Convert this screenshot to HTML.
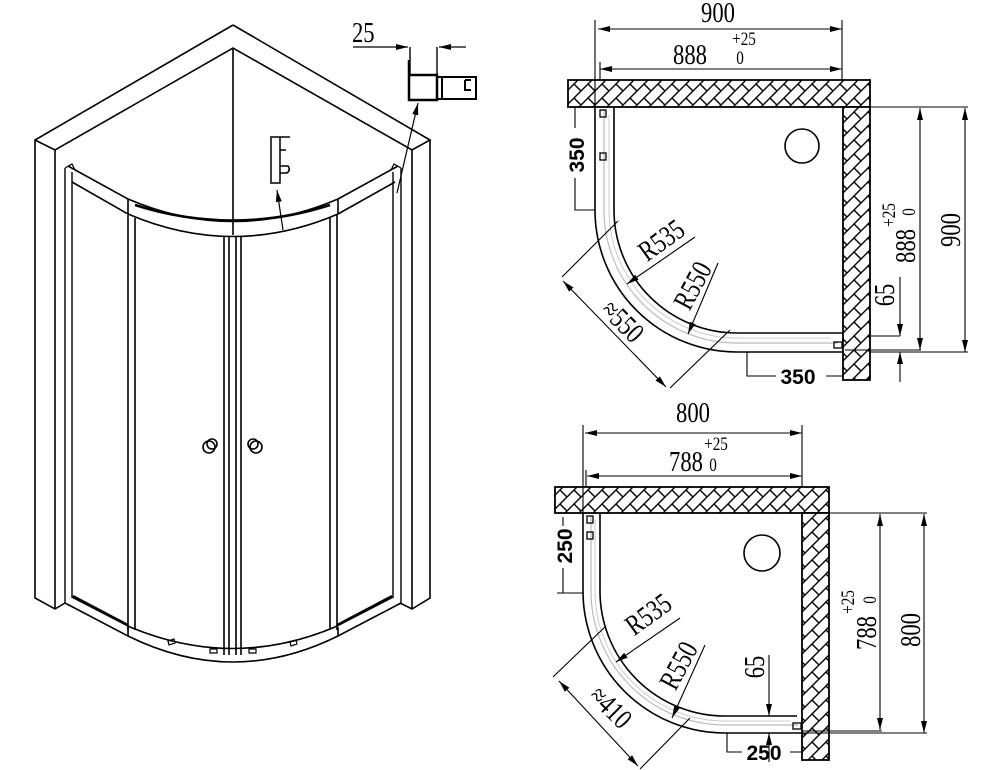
<!DOCTYPE html>
<html><head><meta charset="utf-8"><style>
html,body{margin:0;padding:0;background:#fff}
svg{display:block}
.t{font-family:"Liberation Serif",serif;font-size:29px;fill:#000}
.b{font-family:"Liberation Sans",sans-serif;font-weight:bold;font-size:21px;fill:#000}
.s{font-family:"Liberation Serif",serif;font-size:19px;fill:#000}
</style></head><body>
<svg width="1002" height="770" viewBox="0 0 1002 770" xmlns="http://www.w3.org/2000/svg">
<defs>
<pattern id="h" patternUnits="userSpaceOnUse" width="14" height="14">
<rect width="14" height="14" fill="#fff"/>
<path d="M0 14 L14 0 M0 0 L7 7 M-2 2 L2 -2 M12 16 L16 12" stroke="#000" stroke-width="1.4"/>
</pattern>
<marker id="a" markerWidth="12" markerHeight="8" refX="12" refY="4" orient="auto-start-reverse" markerUnits="userSpaceOnUse"><path d="M0 1 L12 4 L0 7 Z" fill="#000"/></marker>
</defs>
<g fill="none" stroke="#000" stroke-width="1.6">
<path d="M233 25 L35 140 L35 598 L55 609 L65 603"/>
<path d="M35 140 L55 150 L233 48 L412 150 L430 140 L233 25"/>
<path d="M233 48 L233 235"/>
<path d="M55 150 L55 609"/>
<path d="M430 140 L430 598 L412 609 L400 603 M412 150 L412 609"/>
<path d="M65 168 L65 603 M72 172 L72 598 M393 172 L393 598 M401 168 L401 603" stroke-width="1.4"/>
<path d="M68 166 L128 199 Q233 244 338 199 L398 166" />
<path d="M72 182 L128 214 Q233 259 338 214 L395 182"/>
<path d="M128 199 L128 214 M338 199 L338 214"/>
<path d="M65 168 L72 164 L75 170 M401 168 L394 164 L391 170" stroke-width="1.2"/>
<path d="M135 205 Q233 236 330 205" stroke-width="2.5"/>
<path d="M128 215 L128 630 M135 218 L135 630 M330 218 L330 630 M337 215 L337 630"/>
<path d="M224 237 L224 655 M229 237 L229 655 M236 237 L236 655 M241 237 L241 655"/>
<path d="M65 603 L128 636 Q233 688 338 636 L401 603"/>
<path d="M72 597 L130 627 Q233 670 335 627 L393 597"/>
<path d="M73 596 L128 625 M392 596 L337 625" stroke-width="2.2"/>
<path d="M128 627 L128 636 M338 627 L338 636"/>
<path d="M168 641 l6 -2 l1 4 l-6 2z M210 649 l7 0 l0 4 l-7 0z M249 649 l7 0 l0 4 l-7 0z M290 642 l6 -2 l1 4 l-6 2z" stroke-width="1.2"/>
<circle cx="209" cy="447" r="6"/><circle cx="212" cy="444" r="5"/>
<circle cx="256" cy="447" r="6"/><circle cx="253" cy="444" r="5"/>
<path d="M271 137 L271 183 L280 183 L280 137 Z M280 137 L290 137 M280 150 L286 150 M280 166 L288 166 Q291 170 287 173 L280 173" stroke-width="1.5"/>
<path d="M283 230 L277 190" marker-end="url(#a)" stroke-width="1.2"/>
<path d="M353 47 L408 47" marker-end="url(#a)" stroke-width="1.2"/>
<path d="M466 47 L439 47" marker-end="url(#a)" stroke-width="1.2"/>
<path d="M410 47 L410 75 M437 47 L437 75" stroke-width="1.4"/>
<path d="M409 60 L409 100 L437 100 L437 75 L409 75" stroke-width="2.5"/>
<path d="M437 77 L476 77 L476 99 L437 99 M442 77 L442 99 M465 80 L471 80 M465 80 L465 90 L471 90" stroke-width="2"/>
<path d="M397 193 L418 103" marker-end="url(#a)" stroke-width="1.2"/>
</g>
<text class="t" transform="translate(352 42) scale(.78 1)">25</text>

<!-- TOP PLAN -->
<rect x="568" y="80" width="302" height="27" fill="url(#h)" stroke="#000" stroke-width="1.8"/>
<rect x="843" y="107" width="27" height="273" fill="url(#h)" stroke="#000" stroke-width="1.8"/>
<g fill="none" stroke="#000" stroke-width="1.6">
<path d="M595 107 L595 210 A142 142 0 0 0 737 352 L843 352"/>
<path d="M614 107 L614 210 A123 123 0 0 0 737 333 L843 333"/>
<path d="M604 110 L604 210 A133 133 0 0 0 737 343 L838 343" stroke="#bbb" stroke-width="1.2"/>
<path d="M609 115 L609 210 A128 128 0 0 0 737 338 L830 338" stroke="#ccc" stroke-width="1"/>
<circle cx="802" cy="146" r="17"/>
<rect x="600" y="110" width="6" height="7" stroke-width="1.3"/>
<rect x="600" y="153" width="6" height="7" stroke-width="1.3"/>
<rect x="834" y="342" width="8" height="6" stroke-width="1.3"/>
<g stroke-width="1.1">
<path d="M595 20 L595 107 M842 20 L842 80 M600 62 L600 80"/>
<path d="M598 29 L842 29" marker-start="url(#a)" marker-end="url(#a)"/>
<path d="M600 69 L842 69" marker-start="url(#a)" marker-end="url(#a)"/>
<path d="M575 107 L575 128 M575 178 L575 210 L595 210"/>
<path d="M870 107 L968 107 M845 350 L921 350 M870 352 L968 352"/>
<path d="M920 108 L920 350" marker-start="url(#a)" marker-end="url(#a)"/>
<path d="M965 108 L965 352" marker-start="url(#a)" marker-end="url(#a)"/>
<path d="M870 336 L900 336 M900 277 L900 336" marker-end="url(#a)"/>
<path d="M900 382 L900 352" marker-end="url(#a)"/>
<path d="M747 352 L747 376 L776 376 M826 376 L843 376"/>
<path d="M627 284 L695 237" marker-start="url(#a)"/>
<path d="M688 334 L718 263" marker-start="url(#a)"/>
<path d="M562 277 L618 221 M670 388 L730 330"/>
<path d="M563 281 L666 387" marker-start="url(#a)" marker-end="url(#a)"/>
</g>
</g>
<text class="t" transform="translate(718 22) scale(.78 1)" text-anchor="middle">900</text>
<text class="t" transform="translate(690 64) scale(.78 1)" text-anchor="middle">888</text>
<text class="s" transform="translate(744 45) scale(.8 1)" text-anchor="middle">+25</text>
<text class="s" transform="translate(740 64) scale(.8 1)" text-anchor="middle">0</text>
<text class="b" transform="translate(584 155) rotate(-90)" text-anchor="middle">350</text>
<text class="b" x="798" y="384" text-anchor="middle">350</text>
<text class="t" transform="translate(960 230) rotate(-90) scale(.78 1)" text-anchor="middle">900</text>
<text class="t" transform="translate(915 246) rotate(-90) scale(.78 1)" text-anchor="middle">888</text>
<text class="s" transform="translate(895 215) rotate(-90) scale(.8 1)" text-anchor="middle">+25</text>
<text class="s" transform="translate(915 212) rotate(-90) scale(.8 1)" text-anchor="middle">0</text>
<text class="t" transform="translate(894 295) rotate(-90) scale(.78 1)" text-anchor="middle">65</text>
<text class="t" transform="translate(667 248) rotate(-36) scale(.78 1)" text-anchor="middle">R535</text>
<text class="t" transform="translate(701 290) rotate(-62) scale(.78 1)" text-anchor="middle">R550</text>
<text class="t" transform="translate(616 328) rotate(45) scale(.78 1)" text-anchor="middle">≈550</text>

<!-- BOTTOM PLAN -->
<rect x="555" y="487" width="274" height="26" fill="url(#h)" stroke="#000" stroke-width="1.8"/>
<rect x="802" y="513" width="27" height="247" fill="url(#h)" stroke="#000" stroke-width="1.8"/>
<g fill="none" stroke="#000" stroke-width="1.6">
<path d="M583 513 L583 591 A142 142 0 0 0 725 733 L802 733"/>
<path d="M600 513 L600 591 A125 125 0 0 0 725 716 L797 716"/>
<path d="M591 516 L591 591 A134 134 0 0 0 725 725 L798 725" stroke="#bbb" stroke-width="1.2"/>
<path d="M595 520 L595 591 A130 130 0 0 0 725 721 L790 721" stroke="#ccc" stroke-width="1"/>
<circle cx="762" cy="553" r="18"/>
<rect x="587" y="516" width="6" height="7" stroke-width="1.3"/>
<rect x="587" y="532" width="6" height="7" stroke-width="1.3"/>
<rect x="793" y="723" width="8" height="6" stroke-width="1.3"/>
<g stroke-width="1.1">
<path d="M583 425 L583 513 M802 425 L802 487 M586 470 L586 487"/>
<path d="M585 433 L802 433" marker-start="url(#a)" marker-end="url(#a)"/>
<path d="M587 476 L802 476" marker-start="url(#a)" marker-end="url(#a)"/>
<path d="M563 517 L563 526 M563 568 L563 593 L557 593 M563 593 L583 593"/>
<path d="M829 513 L927 513 M802 731 L882 731 M802 733 L927 733"/>
<path d="M880 514 L880 730" marker-start="url(#a)" marker-end="url(#a)"/>
<path d="M924 514 L924 733" marker-start="url(#a)" marker-end="url(#a)"/>
<path d="M769 655 L769 716" marker-end="url(#a)"/>
<path d="M769 762 L769 733" marker-end="url(#a)"/>
<path d="M727 733 L727 752 L742 752 M790 752 L802 752"/>
<path d="M616 662 L680 618" marker-start="url(#a)"/>
<path d="M672 718 L705 645" marker-start="url(#a)"/>
<path d="M553 677 L606 626 M640 769 L690 718"/>
<path d="M559 681 L638 766" marker-start="url(#a)" marker-end="url(#a)"/>
</g>
</g>
<text class="t" transform="translate(693 422) scale(.78 1)" text-anchor="middle">800</text>
<text class="t" transform="translate(686 471) scale(.78 1)" text-anchor="middle">788</text>
<text class="s" transform="translate(716 450) scale(.8 1)" text-anchor="middle">+25</text>
<text class="s" transform="translate(713 471) scale(.8 1)" text-anchor="middle">0</text>
<text class="b" transform="translate(572 546) rotate(-90)" text-anchor="middle">250</text>
<text class="b" x="764" y="760" text-anchor="middle">250</text>
<text class="t" transform="translate(920 630) rotate(-90) scale(.78 1)" text-anchor="middle">800</text>
<text class="t" transform="translate(876 633) rotate(-90) scale(.78 1)" text-anchor="middle">788</text>
<text class="s" transform="translate(854 602) rotate(-90) scale(.8 1)" text-anchor="middle">+25</text>
<text class="s" transform="translate(876 600) rotate(-90) scale(.8 1)" text-anchor="middle">0</text>
<text class="t" transform="translate(764 667) rotate(-90) scale(.78 1)" text-anchor="middle">65</text>
<text class="t" transform="translate(654 622) rotate(-36) scale(.78 1)" text-anchor="middle">R535</text>
<text class="t" transform="translate(687 670) rotate(-62) scale(.78 1)" text-anchor="middle">R550</text>
<text class="t" transform="translate(604 714) rotate(45) scale(.78 1)" text-anchor="middle">≈410</text>
</svg>
</body></html>
